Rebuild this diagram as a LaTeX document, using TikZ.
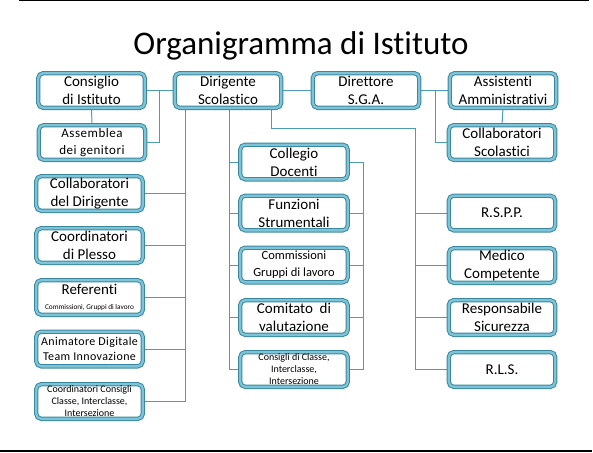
\documentclass[tikz,border=0pt]{standalone}
\usepackage{fontspec}
\setmainfont{Carlito}[Ligatures=NoCommon]
\usetikzlibrary{backgrounds}
\definecolor{tdark}{HTML}{3A88A0}
\definecolor{tlight}{HTML}{7EC3D6}
\definecolor{tline}{HTML}{4C9CB3}
\begin{document}
\begin{tikzpicture}[x=1pt,y=-1pt,
  box/.style={draw=tdark, line width=1pt, double=tlight, double distance=2.3pt,
    fill=white, rounded corners=5pt, align=center, inner sep=0pt,
    minimum height=34.7pt, minimum width=106.5pt,
    font=\fontsize{15}{18}\selectfont},
  wide/.style={minimum width=107.5pt},
  conn/.style={draw=tline, line width=1pt}]
\useasboundingbox (0,0) rectangle (593,452);
\draw[line width=1pt] (19,0.5) -- (589,0.5);
\draw[line width=1.4pt] (0,451) -- (592,451);

\node[font=\fontsize{33}{38}\selectfont, anchor=base] (title) at (301,54) {Organigramma di Istituto};

% top row
\node[box] (consiglio) at (91.5,90.5) {Consiglio\\di Istituto};
\node[box] (dirigente) at (228,90.5) {Dirigente\\Scolastico};
\node[box] (direttore) at (366,90.5) {Direttore\\S.G.A.};
\node[box] (assistenti) at (503,90.5) {Assistenti\\Amministrativi};

% left column
\node[box, font=\fontsize{13}{17}\selectfont\addfontfeatures{LetterSpace=4}] (assemblea) at (92,142.5) {Assemblea\\dei genitori};
\node[box] (collabdir) at (89.5,193.5) {Collaboratori\\del Dirigente};
\node[box] (plesso) at (89.5,245.5) {Coordinatori\\di Plesso};
\node[box] (referenti) at (89.5,297.5) {Referenti\\[-3pt]{\fontsize{7.3}{8}\selectfont Commissioni, Gruppi di lavoro}};
\node[box, font=\fontsize{12}{15}\selectfont\addfontfeatures{LetterSpace=3}] (animatore) at (89.5,349) {Animatore Digitale\\Team Innovazione};
\node[box, font=\fontsize{10}{12}\selectfont] (coordcons) at (89.5,401.5) {Coordinatori Consigli\\Classe, Interclasse,\\Intersezione};

% middle column
\node[box, wide] (collegio) at (294,162) {Collegio\\Docenti};
\node[box, wide] (funzioni) at (294,213) {Funzioni\\Strumentali};
\node[box, wide, font=\fontsize{12.5}{17}\selectfont] (commissioni) at (294,265) {Commissioni\\Gruppi di lavoro};
\node[box, wide] (comitato) at (294,317.5) {Comitato\ \ di\\valutazione};
\node[box, wide, font=\fontsize{10}{12}\selectfont] (consclasse) at (294,369.5) {Consigli di Classe,\\Interclasse,\\Intersezione};

% right column
\node[box] (collabscol) at (502,142.5) {Collaboratori\\Scolastici};
\node[box] (rspp) at (502,213) {R.S.P.P.};
\node[box] (medico) at (502,265.5) {Medico\\Competente};
\node[box] (responsabile) at (502,317.5) {Responsabile\\Sicurezza};
\node[box] (rls) at (502,369.5) {R.L.S.};

\begin{scope}[on background layer]
  % consiglio / assemblea
  \coordinate (jA) at (159,91);
  \draw[conn] (consiglio.east) -- (dirigente.west);
  \draw[conn] (consiglio.south) -- (assemblea.north);
  \draw[conn] (assemblea.east) -| (jA);
  % left trunk
  \coordinate (dL) at ([xshift=11pt]dirigente.south west);
  \draw[conn] (dL) -- (dL |- coordcons.east);
  \foreach \n in {collabdir,plesso,referenti,animatore,coordcons}
    \draw[conn] (\n.east) -- (\n.east -| dL);
  % middle trunk
  \coordinate (dM) at ([xshift=1pt]dirigente.south);
  \draw[conn] (dM) -- (dM |- consclasse.west);
  \foreach \n in {collegio,funzioni,commissioni,comitato,consclasse}
    \draw[conn] (\n.west) -- (\n.west -| dM);
  \coordinate (mR) at (363,162);
  \draw[conn] (mR) -- (mR |- consclasse.east);
  \foreach \n in {collegio,funzioni,commissioni,comitato,consclasse}
    \draw[conn] (\n.east) -- (\n.east -| mR);
  % right trunk
  \coordinate (dR) at ([xshift=-10pt]dirigente.south east);
  \coordinate (jR) at (415,128);
  \draw[conn] (dR) |- (jR) -- (jR |- rls.west);
  \foreach \n in {rspp,medico,responsabile,rls}
    \draw[conn] (\n.west) -- (\n.west -| jR);
  % direttore
  \coordinate (jD) at (435,91);
  \draw[conn] (dirigente.east) -- (direttore.west);
  \draw[conn] (direttore.east) -- (assistenti.west);
  \draw[conn] (collabscol.west) -| (jD);
  \draw[conn] (assistenti.south) -- (collabscol.north);
\end{scope}
\end{tikzpicture}
\end{document}
